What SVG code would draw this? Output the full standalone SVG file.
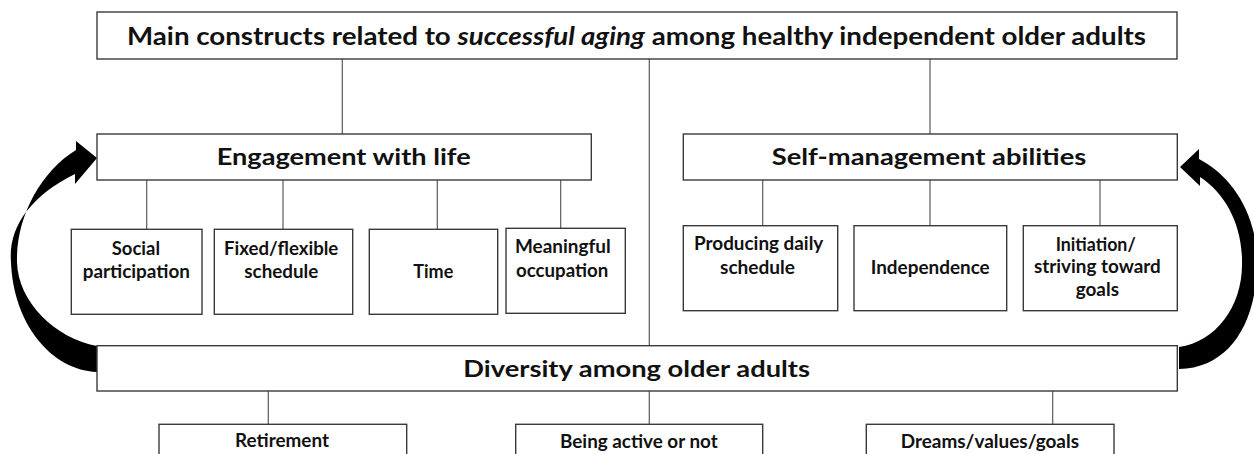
<svg xmlns="http://www.w3.org/2000/svg" width="1254" height="454" viewBox="0 0 1254 454">
  <style>
    .box { fill: #ffffff; stroke: #3a3a3a; stroke-width: 1.4; }
    .link { stroke: #5a5a5a; stroke-width: 1.2; fill: none; }
    .loop { fill: #000000; stroke: none; }
    text { font-family: Lato, "Open Sans", "Liberation Sans", sans-serif; font-weight: 700; fill: #111111; }
    .title { font-size: 25.5px; }
    .head { font-size: 22px; }
    .item { font-size: 18px; }
  </style>
  <rect width="1254" height="454" fill="#ffffff"/>

  <!-- tree connectors -->
  <g id="connectors">
    <line class="link" x1="342.3" y1="59" x2="342.3" y2="134"/>
    <line class="link" x1="649.3" y1="59" x2="649.3" y2="345.7"/>
    <line class="link" x1="930" y1="59" x2="930" y2="134"/>
    <line class="link" x1="146.7" y1="180" x2="146.7" y2="229.3"/>
    <line class="link" x1="283" y1="180" x2="283" y2="229.3"/>
    <line class="link" x1="437.3" y1="180" x2="437.3" y2="229.3"/>
    <line class="link" x1="560.7" y1="180" x2="560.7" y2="228.3"/>
    <line class="link" x1="762.7" y1="180" x2="762.7" y2="225.7"/>
    <line class="link" x1="930" y1="180" x2="930" y2="225.7"/>
    <line class="link" x1="1100" y1="180" x2="1100" y2="225.7"/>
    <line class="link" x1="268.3" y1="391" x2="268.3" y2="424.3"/>
    <line class="link" x1="649.3" y1="391" x2="649.3" y2="424.3"/>
    <line class="link" x1="1052.7" y1="391" x2="1052.7" y2="424.3"/>
    <!-- curved feedback arrows from the diversity bar back up to the two branches -->
    <path class="loop" d="M97 346 C55 338,18 302,17 262 C16 218,40 172,76 150 L76 141 L97 158 L75 184 L75 174 C30 196,8 228,11 262 C13 322,50 370,97 372 Z"/>
    <path class="loop" d="M1179 347 C1216 342,1242 306,1242 265 C1243 226,1226 194,1200 177 L1200 186 L1180 167 L1199 149 L1199 159 C1232 176,1257 214,1257 262 C1257 322,1230 368,1179 369 Z"/>
  </g>

  <g id="root">
    <rect class="box" x="97" y="12" width="1080" height="47"/>
    <text class="title" x="127" y="45" textLength="1019" lengthAdjust="spacingAndGlyphs">Main constructs related to <tspan font-style="italic">successful aging</tspan> among healthy independent older adults</text>
  </g>

  <g id="engagement">
    <rect class="box" x="97" y="134" width="494.3" height="46"/>
    <text class="head" x="216.7" y="165" textLength="254" lengthAdjust="spacingAndGlyphs">Engagement with life</text>
  </g>

  <g id="self-management">
    <rect class="box" x="683.3" y="134" width="494" height="46"/>
    <text class="head" x="771.7" y="165" textLength="314.6" lengthAdjust="spacingAndGlyphs">Self-management abilities</text>
  </g>

  <g id="social-participation">
    <rect class="box" x="71.3" y="229.3" width="130.7" height="85"/>
    <text class="item" x="111.7" y="255" textLength="48.3" lengthAdjust="spacingAndGlyphs">Social</text>
    <text class="item" x="82.7" y="278.3" textLength="107.3" lengthAdjust="spacingAndGlyphs">participation</text>
  </g>

  <g id="fixed-flexible-schedule">
    <rect class="box" x="214.3" y="229.3" width="138.4" height="85"/>
    <text class="item" x="224" y="255" textLength="114.3" lengthAdjust="spacingAndGlyphs">Fixed/flexible</text>
    <text class="item" x="244.3" y="278.3" textLength="74" lengthAdjust="spacingAndGlyphs">schedule</text>
  </g>

  <g id="time">
    <rect class="box" x="369.3" y="229.3" width="128.4" height="85"/>
    <text class="item" x="413.3" y="278.3" textLength="40" lengthAdjust="spacingAndGlyphs">Time</text>
  </g>

  <g id="meaningful-occupation">
    <rect class="box" x="506" y="228.3" width="119.3" height="85"/>
    <text class="item" x="515" y="252.5" textLength="95.7" lengthAdjust="spacingAndGlyphs">Meaningful</text>
    <text class="item" x="516" y="276.5" textLength="92.3" lengthAdjust="spacingAndGlyphs">occupation</text>
  </g>

  <g id="producing-daily-schedule">
    <rect class="box" x="683.3" y="225.7" width="154.4" height="85"/>
    <text class="item" x="694" y="249.5" textLength="129.3" lengthAdjust="spacingAndGlyphs">Producing daily</text>
    <text class="item" x="720" y="273.5" textLength="75" lengthAdjust="spacingAndGlyphs">schedule</text>
  </g>

  <g id="independence">
    <rect class="box" x="854" y="225.7" width="152.7" height="85"/>
    <text class="item" x="870.7" y="274" textLength="119" lengthAdjust="spacingAndGlyphs">Independence</text>
  </g>

  <g id="initiation">
    <rect class="box" x="1023.3" y="225.7" width="154" height="85"/>
    <text class="item" x="1055.7" y="251" textLength="80" lengthAdjust="spacingAndGlyphs">Initiation/</text>
    <text class="item" x="1034" y="273.3" textLength="126.7" lengthAdjust="spacingAndGlyphs">striving toward</text>
    <text class="item" x="1075.7" y="295.5" textLength="43.3" lengthAdjust="spacingAndGlyphs">goals</text>
  </g>

  <g id="diversity">
    <rect class="box" x="97" y="345.7" width="1080.3" height="45.3"/>
    <text class="head" x="463.3" y="377.3" textLength="346.7" lengthAdjust="spacingAndGlyphs">Diversity among older adults</text>
  </g>

  <g id="retirement">
    <rect class="box" x="159" y="424.3" width="247.7" height="60"/>
    <text class="item" x="235" y="447.3" textLength="94" lengthAdjust="spacingAndGlyphs">Retirement</text>
  </g>

  <g id="being-active">
    <rect class="box" x="515.7" y="424.3" width="247" height="60"/>
    <text class="item" x="560" y="447.7" textLength="157.7" lengthAdjust="spacingAndGlyphs">Being active or not</text>
  </g>

  <g id="dreams-values-goals">
    <rect class="box" x="866.3" y="424.3" width="247.7" height="60"/>
    <text class="item" x="900.7" y="447.5" textLength="178.3" lengthAdjust="spacingAndGlyphs">Dreams/values/goals</text>
  </g>
</svg>
